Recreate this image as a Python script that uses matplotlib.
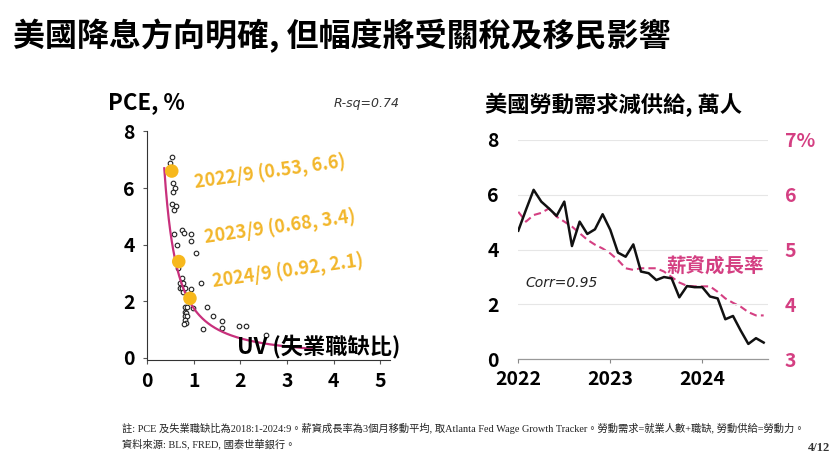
import numpy as np
import matplotlib
matplotlib.use('Agg')
import matplotlib.pyplot as plt

plt.rcParams['font.family'] = ['Noto Sans CJK TC', 'DejaVu Sans']

# 左圖: PCE vs UV 散佈點
uv = [0.53, 0.49, 0.55, 0.60, 0.55, 0.54, 0.62, 0.58, 0.58, 0.76, 0.80, 0.94, 0.94,
      0.65, 1.06, 0.66, 0.74, 0.71, 0.78, 1.15, 0.71, 0.76, 0.81, 0.94, 0.78, 0.99,
      0.81, 0.85, 0.81, 0.84, 0.81, 0.86, 0.81, 0.84, 0.80, 1.28, 1.42, 1.21, 1.61,
      1.60, 1.96, 2.13, 2.55]
pce = [7.08, 6.90, 6.16, 5.99, 5.87, 5.45, 5.36, 5.24, 4.38, 4.53, 4.42, 4.36, 4.14,
       3.98, 3.71, 3.17, 2.82, 2.64, 2.64, 2.64, 2.46, 2.46, 2.46, 2.44, 2.34, 1.75,
       1.81, 1.81, 1.63, 1.58, 1.46, 1.46, 1.34, 1.22, 1.19, 1.81, 1.49, 1.02, 1.31,
       1.04, 1.13, 1.13, 0.81]

# 重點月份
hl_labels = ['2022/9 (0.53, 6.6)', '2023/9 (0.68, 3.4)', '2024/9 (0.92, 2.1)']
hl_uv = [0.53, 0.68, 0.92]
hl_pce = [6.6, 3.4, 2.1]

# 冪次趨勢線係數
trend_a = 1.75
trend_b = -1.35
trend_xmin, trend_xmax = 0.37, 3.55

# 右圖: 勞動需求減供給 (左軸) 與薪資成長率 (右軸), 2022/1 - 2024/9
gap = [4.69, 5.45, 6.18, 5.75, 5.50, 5.23, 5.75, 4.13, 5.02, 4.57, 4.74, 5.29,
       4.72, 3.89, 3.74, 4.19, 3.20, 3.14, 2.89, 3.00, 2.95, 2.26, 2.67, 2.63,
       2.63, 2.29, 2.22, 1.46, 1.58, 1.05, 0.56, 0.77, 0.61]
wage = [5.69, 5.51, 5.63, 5.67, 5.75, 5.60, 5.51, 5.42, 5.30, 5.18, 5.09, 5.02,
        4.93, 4.81, 4.66, 4.63, 4.66, 4.66, 4.66, 4.60, 4.50, 4.40, 4.34, 4.33,
        4.33, 4.33, 4.23, 4.11, 4.03, 3.96, 3.86, 3.80, 3.80]
year_labels = ['2022', '2023', '2024']

gold = '#F7B81C'
gold_txt = '#F2B62A'
magenta = '#C8307C'
pink = '#D43F82'
ital = ['DejaVu Sans']

fig = plt.figure(figsize=(8.4, 4.58), dpi=100)

fig.text(0.016, 0.921, '美國降息方向明確, 但幅度將受關稅及移民影響',
         fontsize=23, fontweight='bold', va='center', ha='left')

# ---- 左圖 ----
ax1 = fig.add_axes([0.175, 0.214, 0.289, 0.499])
ax1.scatter(uv, pce, s=11, facecolors='white', edgecolors='#222222', linewidths=0.8, zorder=2)
xs = np.linspace(trend_xmin, trend_xmax, 200)
ax1.plot(xs, trend_a * xs ** trend_b, color=magenta, lw=1.6, zorder=3)
ax1.scatter(hl_uv, hl_pce, s=95, color=gold, zorder=4, edgecolors='none')
label_pos = [(2.63, 6.55), (2.85, 4.6), (3.02, 3.05)]
for lab, (tx, ty) in zip(hl_labels, label_pos):
    ax1.text(tx, ty, lab, color=gold_txt, fontsize=13, fontweight='bold',
             rotation=8, ha='center', va='center', zorder=5)
ax1.text(3.68, 0.4, 'UV (失業職缺比)', fontsize=16, fontweight='bold',
         ha='center', va='center', zorder=6)
ax1.set_xlim(0, 5.2)
ax1.set_ylim(-0.08, 8)
ax1.set_xticks([0, 1, 2, 3, 4, 5])
ax1.set_yticks([0, 2, 4, 6, 8])
ax1.tick_params(labelsize=14, length=3, width=0.8, color='#555555', pad=6)
for t in ax1.get_xticklabels() + ax1.get_yticklabels():
    t.set_fontweight('bold')
ax1.spines['top'].set_visible(False)
ax1.spines['right'].set_visible(False)
ax1.spines['left'].set_color('#333333')
ax1.spines['bottom'].set_color('#333333')
fig.text(0.128, 0.775, 'PCE, %', fontsize=16, fontweight='bold', va='center', ha='left')
fig.text(0.437, 0.775, 'R-sq=0.74', fontsize=9, style='italic', family=ital,
         va='center', ha='center', color='#333333')

# ---- 右圖 ----
months = np.arange(len(gap))
ax2 = fig.add_axes([0.617, 0.2155, 0.2976, 0.479])
ax2.set_xlim(0, 32.6)
ax2.set_ylim(0, 8)
ax2.set_yticks([0, 2, 4, 6, 8])
ax2.grid(axis='y', color='#e6e6e6', lw=0.8)
ax2.set_axisbelow(True)
ax3 = ax2.twinx()
ax3.set_ylim(3, 7)
ax3.set_yticks([3, 4, 5, 6, 7])
ax3.set_yticklabels(['3', '4', '5', '6', '7%'])
ax3.plot(months, wage, color=pink, lw=1.5, ls=(0, (3.5, 2)), zorder=2)
ax2.set_zorder(ax3.get_zorder() + 1)
ax2.patch.set_visible(False)
ax2.plot(months, gap, color='#111111', lw=1.8, zorder=3)
ax2.set_xticks([0, 12, 24])
ax2.set_xticklabels(year_labels)
ax2.tick_params(axis='x', labelsize=14, length=3, color='#888888', pad=5)
ax2.tick_params(axis='y', labelsize=14, length=0, pad=14)
ax3.tick_params(axis='y', labelsize=14, length=0, pad=12, labelcolor=pink)
for t in ax2.get_xticklabels() + ax2.get_yticklabels() + ax3.get_yticklabels():
    t.set_fontweight('bold')
for ax in (ax2, ax3):
    for s in ('top', 'right', 'left'):
        ax.spines[s].set_visible(False)
    ax.spines['bottom'].set_color('#999999')
ax2.text(5.6, 2.78, 'Corr=0.95', fontsize=10, style='italic', family=ital,
         ha='center', va='center', color='#222222')
ax2.text(25.7, 3.37, '薪資成長率', fontsize=14, fontweight='bold', color=pink,
         ha='center', va='center')
fig.text(0.577, 0.771, '美國勞動需求減供給, 萬人', fontsize=16, fontweight='bold',
         va='center', ha='left')

# ---- 註解 ----
note_font = ['Liberation Serif', 'Noto Sans CJK TC']
fig.text(0.145, 0.064,
         '註: PCE 及失業職缺比為2018:1-2024:9。薪資成長率為3個月移動平均, 取Atlanta Fed Wage Growth Tracker。勞動需求=就業人數+職缺, 勞動供給=勞動力。',
         fontsize=7.4, family=note_font, va='center', ha='left', color='#222222')
fig.text(0.145, 0.030, '資料來源: BLS, FRED, 國泰世華銀行。',
         fontsize=7.4, family=note_font, va='center', ha='left', color='#222222')
fig.text(0.988, 0.022, '4/12', fontsize=9, family=note_font, fontweight='bold',
         va='center', ha='right', color='#333333')

fig.savefig('out.png', dpi=100)
